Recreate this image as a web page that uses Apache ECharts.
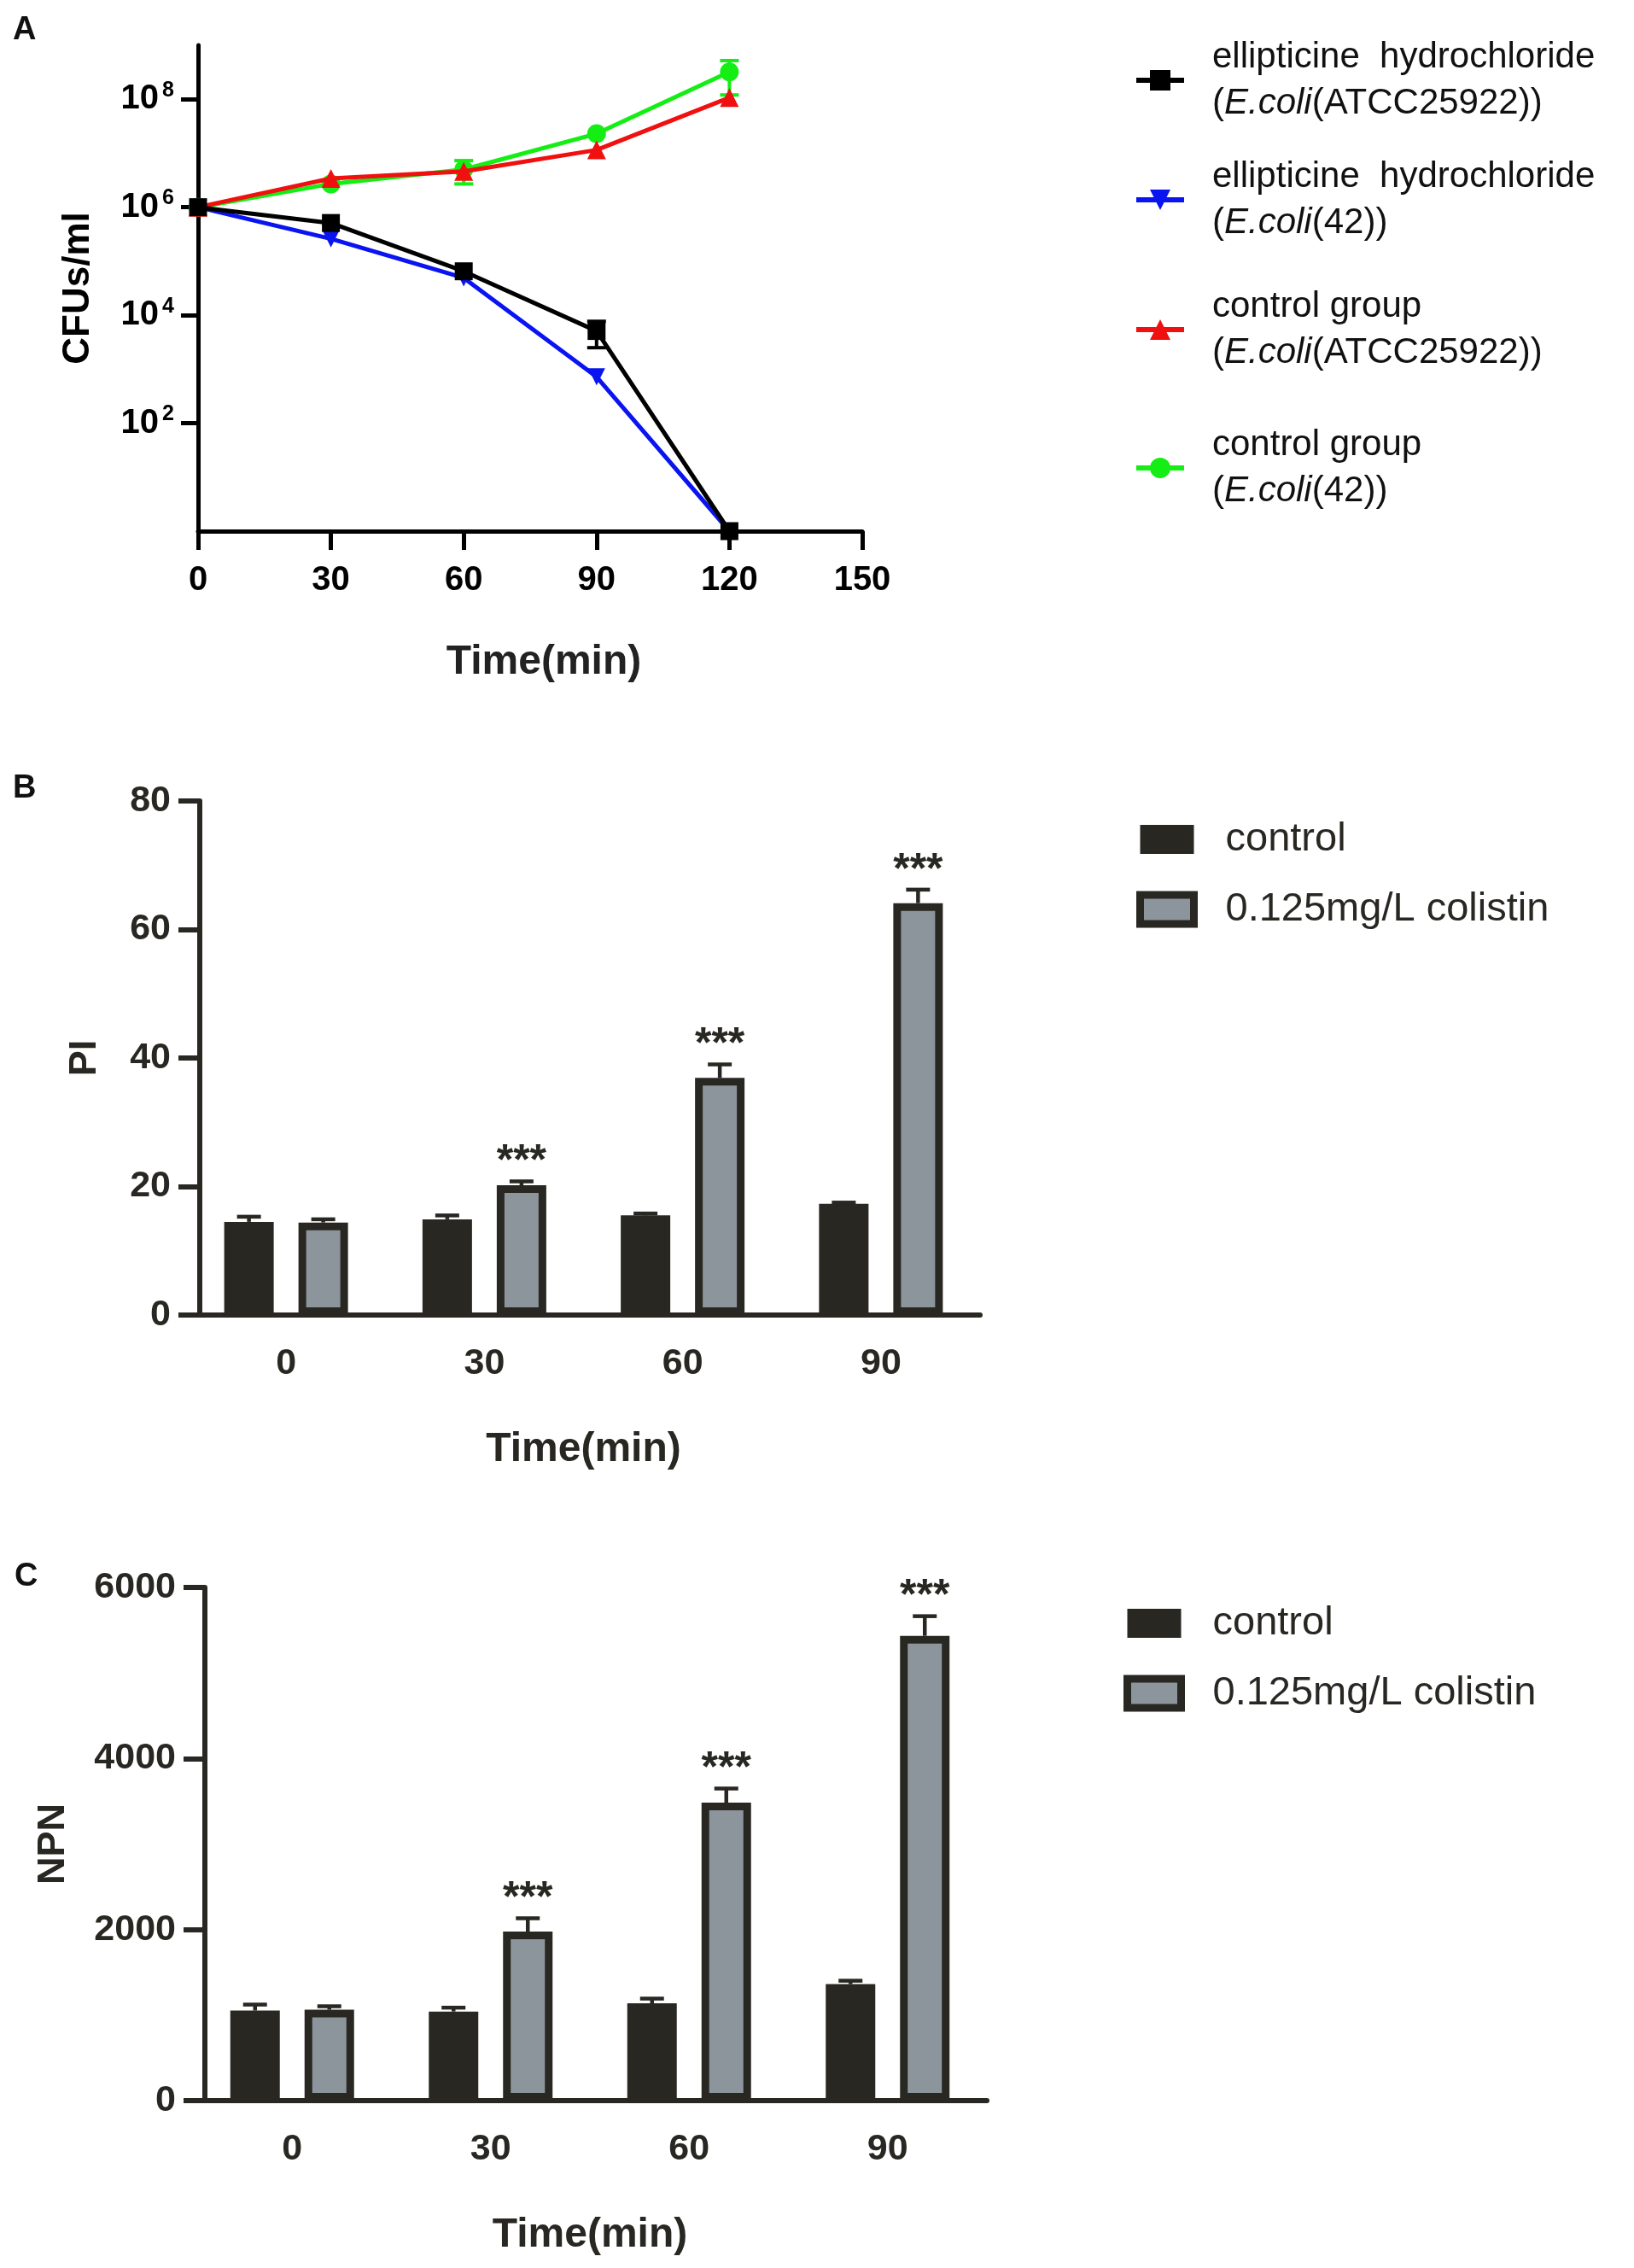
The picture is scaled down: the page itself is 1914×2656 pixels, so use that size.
<!DOCTYPE html>
<html>
<head>
<meta charset="utf-8">
<script src="https://cdn.jsdelivr.net/npm/echarts@6/dist/echarts.min.js"></script>
<style>
  html, body { margin: 0; background: #fff; }
  #chart { width: 1914px; height: 2656px; }
</style>
</head>
<body>
<div id="chart"></div>
<script>
// ---- panel A: time-kill curves (CFUs/ml, log scale) ----
const timesA = [0, 30, 60, 90, 120];
const ellipATCC = [1e6, 5.1e5, 6.5e4, 5.1e3, 1];
const ellip42 = [1e6, 2.6e5, 4.9e4, 7.2e2, 1];
const ctrlATCC = [1e6, 3.4e6, 4.6e6, 1.15e7, 1.07e8];
const ctrl42 = [1e6, 2.7e6, 5.0e6, 2.3e7, 3.2e8];
// SD, 0 where the bar hides under the marker
const ellipATCCSd = [0, 0, 0, 2.6e3, 0];
const ellip42Sd = [0, 0, 0, 0, 0];
const ctrlATCCSd = [0, 0, 0, 0, 0];
const ctrl42Sd = [0, 0, 2.3e6, 0, 2.0e8];
const logTicks = [1e2, 1e4, 1e6, 1e8];
const namesA = [
  'ellipticine hydrochloride (E.coli(ATCC25922))',
  'ellipticine hydrochloride (E.coli(42))',
  'control group (E.coli(ATCC25922))',
  'control group (E.coli(42))'
];
const legendLinesA = [
  ['ellipticine  hydrochloride', 'ATCC25922'],
  ['ellipticine  hydrochloride', '42'],
  ['control group', 'ATCC25922'],
  ['control group', '42']
];

// ---- panels B and C: grouped bars ----
const barTimes = ['0', '30', '60', '90'];
const barNames = ['control', '0.125mg/L colistin'];
const piControl = [14.5, 14.9, 15.5, 17.3];
const piControlSd = [0.8, 0.6, 0.3, 0.2];
const piColistin = [14.4, 20.2, 36.9, 64.1];
const piColistinSd = [0.5, 0.6, 2.1, 2.1];
const npnControl = [1053, 1042, 1138, 1362];
const npnControlSd = [70, 45, 55, 40];
const npnColistin = [1063, 1977, 3484, 5434];
const npnColistinSd = [40, 155, 165, 230];
const sigMarks = ['', '***', '***', '***'];

const FONT = "'Liberation Sans', Arial, sans-serif";
const INK = '#282722';
const GREY = '#8d959c';
const lineColors = ['#000000', '#0a14f0', '#f01010', '#14ee14'];

const chart = echarts.init(document.getElementById('chart'), null, { renderer: 'canvas' });

function pairs(xs, ys) {
  return xs.map((x, i) => [x, ys[i]]);
}

function logErrorSeries(values, sds, color) {
  const data = [];
  values.forEach((v, i) => {
    if (sds[i] > 0) data.push([timesA[i], Math.max(v - sds[i], 1), v + sds[i]]);
  });
  return {
    type: 'custom',
    xAxisIndex: 0,
    yAxisIndex: 0,
    z: 1,
    silent: true,
    data: data,
    renderItem(params, api) {
      const lo = api.coord([api.value(0), api.value(1)]);
      const hi = api.coord([api.value(0), api.value(2)]);
      const st = { stroke: color, lineWidth: 4 };
      return {
        type: 'group',
        children: [
          { type: 'line', shape: { x1: lo[0], y1: lo[1], x2: hi[0], y2: hi[1] }, style: st },
          { type: 'line', shape: { x1: lo[0] - 11, y1: lo[1], x2: lo[0] + 11, y2: lo[1] }, style: st },
          { type: 'line', shape: { x1: hi[0] - 11, y1: hi[1], x2: hi[0] + 11, y2: hi[1] }, style: st }
        ]
      };
    }
  };
}

function barErrorSeries(axisIndex, values, sds, shift, marks) {
  return {
    type: 'custom',
    xAxisIndex: axisIndex,
    yAxisIndex: axisIndex,
    z: 3,
    silent: true,
    data: values.map((v, i) => [i, v, v + sds[i]]),
    renderItem(params, api) {
      const base = api.coord([api.value(0), api.value(1)]);
      const top = api.coord([api.value(0), api.value(2)]);
      const x = base[0] + shift;
      const st = { stroke: INK, lineWidth: 4.5 };
      const children = [
        { type: 'line', shape: { x1: x, y1: base[1], x2: x, y2: top[1] }, style: st },
        { type: 'line', shape: { x1: x - 14, y1: top[1], x2: x + 14, y2: top[1] }, style: st }
      ];
      const mark = marks ? marks[params.dataIndex] : '';
      if (mark) {
        children.push({
          type: 'text',
          x: x,
          y: top[1] - 22,
          style: {
            text: mark, fill: INK, font: 'bold 50px ' + FONT,
            align: 'center', verticalAlign: 'middle'
          }
        });
      }
      return { type: 'group', children: children };
    }
  };
}

function barAxes(gridIndex, max, interval, yName, yGap, yOffset) {
  const x = {
    type: 'category',
    gridIndex: gridIndex,
    data: barTimes,
    name: 'Time(min)',
    nameLocation: 'middle',
    nameGap: 134,
    nameTextStyle: { fontFamily: FONT, fontWeight: 'bold', fontSize: 48, color: INK },
    axisLine: { lineStyle: { color: INK, width: 6 } },
    axisTick: { alignWithLabel: true, length: 24, lineStyle: { color: INK, width: 6 } },
    axisLabel: { fontFamily: FONT, fontWeight: 'bold', fontSize: 43, color: INK, margin: 36 }
  };
  const y = {
    type: 'value',
    gridIndex: gridIndex,
    min: 0,
    max: max,
    interval: interval,
    offset: yOffset,
    name: yName,
    nameLocation: 'middle',
    nameGap: yGap,
    nameTextStyle: { fontFamily: FONT, fontWeight: 'bold', fontSize: 45, color: INK },
    axisLine: { show: true, lineStyle: { color: INK, width: 6 } },
    axisTick: { show: true, length: 25, lineStyle: { color: INK, width: 6 } },
    axisLabel: { fontFamily: FONT, fontWeight: 'bold', fontSize: 43, color: INK, margin: 34, formatter: (v) => String(v) },
    splitLine: { show: false }
  };
  return [x, y];
}

function barSeries(axisIndex, ctrl, coli) {
  return [
    {
      name: barNames[0], type: 'bar', xAxisIndex: axisIndex, yAxisIndex: axisIndex,
      data: ctrl, barWidth: 58, barGap: '50%', z: 2,
      itemStyle: { color: INK, borderColor: INK, borderWidth: 0 }
    },
    {
      name: barNames[1], type: 'bar', xAxisIndex: axisIndex, yAxisIndex: axisIndex,
      data: coli, barWidth: 58, barGap: '50%', z: 2,
      itemStyle: { color: GREY, borderColor: INK, borderWidth: 9 }
    }
  ];
}

function barLegend(left, top) {
  return {
    orient: 'vertical',
    left: left,
    top: top,
    padding: 0,
    itemGap: 32,
    itemWidth: 63,
    itemHeight: 34,
    icon: 'rect',
    selectedMode: false,
    data: [
      { name: barNames[0], itemStyle: { color: INK, borderColor: INK, borderWidth: 0 } },
      { name: barNames[1], itemStyle: { color: GREY, borderColor: INK, borderWidth: 9 } }
    ],
    textStyle: { fontFamily: FONT, fontSize: 47, lineHeight: 50, color: INK, padding: [0, 0, 0, 32] }
  };
}

const legendTopsA = [46, 186, 338, 500];
const legendsA = namesA.map((name, k) => ({
  orient: 'vertical',
  left: 1328,
  top: legendTopsA[k],
  padding: 0,
  itemWidth: 56,
  itemHeight: 30,
  selectedMode: false,
  data: [{ name: name, lineStyle: { width: 6 } }],
  formatter: () => '{n|' + legendLinesA[k][0] + '}\n{n|(}{i|E.coli}{n|(' + legendLinesA[k][1] + '))}',
  textStyle: {
    padding: [0, 0, 0, 28],
    rich: {
      n: { fontFamily: FONT, fontSize: 42, lineHeight: 54, color: '#111' },
      i: { fontFamily: FONT, fontSize: 42, lineHeight: 54, color: '#111', fontStyle: 'italic' }
    }
  }
}));

const bAxes = barAxes(1, 80, 20, 'PI', 112, -15);
const cAxes = barAxes(2, 6000, 2000, 'NPN', 155, -14);

const option = {
  backgroundColor: '#ffffff',
  animation: false,
  title: [
    { text: 'A', left: 10, top: 12, textStyle: { fontFamily: FONT, fontSize: 38, fontWeight: 'bold', color: '#111' } },
    { text: 'B', left: 10, top: 900, textStyle: { fontFamily: FONT, fontSize: 38, fontWeight: 'bold', color: '#111' } },
    { text: 'C', left: 12, top: 1823, textStyle: { fontFamily: FONT, fontSize: 38, fontWeight: 'bold', color: '#111' } }
  ],
  legend: legendsA.concat([barLegend(1331, 958), barLegend(1316, 1876)]),
  grid: [
    { left: 232, top: 53, width: 778, height: 569 },
    { left: 219, top: 938, width: 929, height: 602 },
    { left: 226, top: 1859, width: 930, height: 601 }
  ],
  xAxis: [
    {
      type: 'value',
      gridIndex: 0,
      min: 0,
      max: 150,
      interval: 30,
      name: 'Time(min)',
      nameLocation: 'middle',
      nameGap: 130,
      nameTextStyle: { fontFamily: FONT, fontWeight: 'bold', fontSize: 48, color: '#222', padding: [0, 0, 0, 32] },
      axisLine: { lineStyle: { color: '#000', width: 5 } },
      axisTick: { length: 22, lineStyle: { color: '#000', width: 5 } },
      axisLabel: { fontFamily: FONT, fontWeight: 'bold', fontSize: 40, color: '#000', margin: 38 },
      splitLine: { show: false }
    },
    bAxes[0],
    cAxes[0]
  ],
  yAxis: [
    {
      type: 'log',
      logBase: 10,
      gridIndex: 0,
      min: 1,
      max: 1e9,
      name: 'CFUs/ml',
      nameLocation: 'middle',
      nameGap: 118,
      nameTextStyle: { fontFamily: FONT, fontWeight: 'bold', fontSize: 44, color: '#000' },
      axisLine: { show: true, lineStyle: { color: '#000', width: 5 } },
      axisTick: { show: true, length: 20, customValues: logTicks, lineStyle: { color: '#000', width: 5 } },
      axisLabel: {
        customValues: logTicks,
        margin: 28,
        formatter: (v) => '{b|10}{s|' + Math.round(Math.log10(v)) + '}',
        rich: {
          b: { fontFamily: FONT, fontWeight: 'bold', fontSize: 40, lineHeight: 46, color: '#000' },
          s: { fontFamily: FONT, fontWeight: 'bold', fontSize: 25, lineHeight: 25, color: '#000', verticalAlign: 'top', padding: [0, 0, 0, 4] }
        }
      },
      splitLine: { show: false }
    },
    bAxes[1],
    cAxes[1]
  ],
  series: [
    logErrorSeries(ctrl42, ctrl42Sd, lineColors[3]),
    logErrorSeries(ctrlATCC, ctrlATCCSd, lineColors[2]),
    logErrorSeries(ellip42, ellip42Sd, lineColors[1]),
    logErrorSeries(ellipATCC, ellipATCCSd, lineColors[0]),
    {
      name: namesA[3], type: 'line', xAxisIndex: 0, yAxisIndex: 0, z: 2,
      data: pairs(timesA, ctrl42), symbol: 'circle', symbolSize: 22,
      lineStyle: { color: lineColors[3], width: 5 }, itemStyle: { color: lineColors[3] }
    },
    {
      name: namesA[2], type: 'line', xAxisIndex: 0, yAxisIndex: 0, z: 3,
      data: pairs(timesA, ctrlATCC), symbol: 'triangle', symbolSize: 22,
      lineStyle: { color: lineColors[2], width: 5 }, itemStyle: { color: lineColors[2] }
    },
    {
      name: namesA[1], type: 'line', xAxisIndex: 0, yAxisIndex: 0, z: 4,
      data: pairs(timesA, ellip42), symbol: 'triangle', symbolRotate: 180, symbolSize: 20,
      lineStyle: { color: lineColors[1], width: 5 }, itemStyle: { color: lineColors[1] }
    },
    {
      name: namesA[0], type: 'line', xAxisIndex: 0, yAxisIndex: 0, z: 5,
      data: pairs(timesA, ellipATCC), symbol: 'rect', symbolSize: 21,
      lineStyle: { color: lineColors[0], width: 5 }, itemStyle: { color: lineColors[0] }
    }
  ]
    .concat(barSeries(1, piControl, piColistin))
    .concat([
      barErrorSeries(1, piControl, piControlSd, -43.5, null),
      barErrorSeries(1, piColistin, piColistinSd, 43.5, sigMarks)
    ])
    .concat(barSeries(2, npnControl, npnColistin))
    .concat([
      barErrorSeries(2, npnControl, npnControlSd, -43.5, null),
      barErrorSeries(2, npnColistin, npnColistinSd, 43.5, sigMarks)
    ])
};

chart.setOption(option);
</script>
</body>
</html>
